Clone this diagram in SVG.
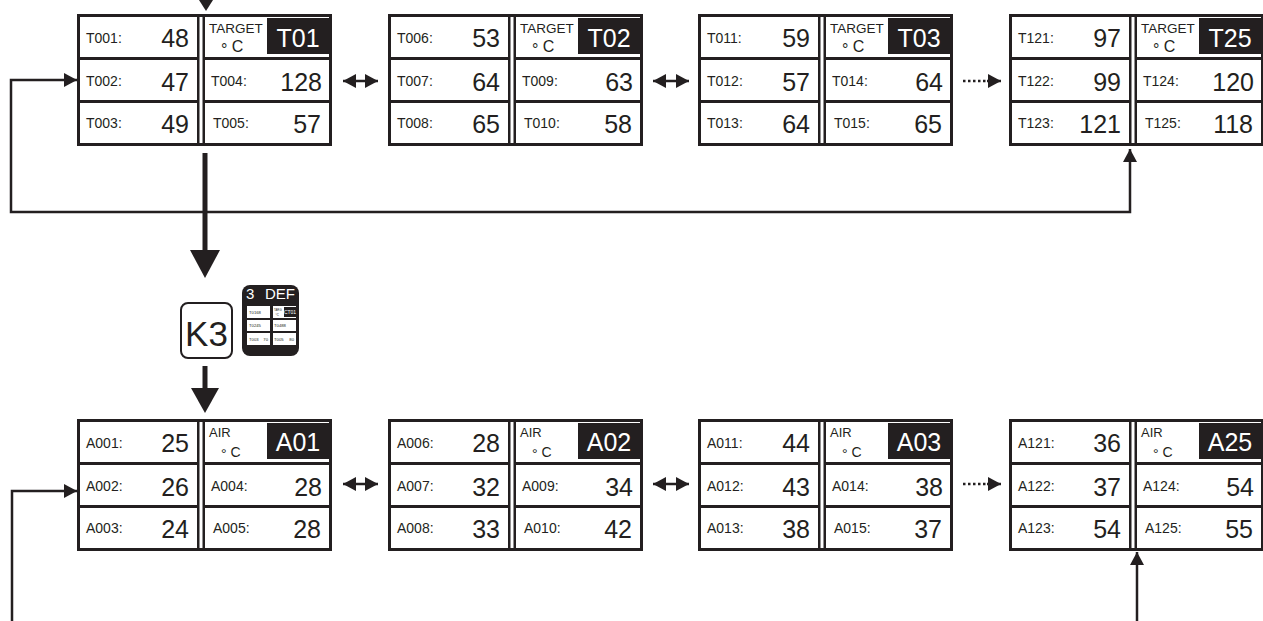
<svg xmlns="http://www.w3.org/2000/svg" xmlns:xlink="http://www.w3.org/1999/xlink" width="1263" height="621" viewBox="0 0 1263 621">
<style>
  text{font-family:"Liberation Sans",Arial,sans-serif;fill:#231f20}
  .lb{font-size:14px}
  .num{font-size:25px;text-anchor:end}
  .hd{font-size:13.5px}
  .deg{font-size:16px}
  .id{font-size:25px;fill:#fff;text-anchor:middle}
  .cell{fill:#fff}
  .ln{fill:none;stroke:#231f20;stroke-width:2.5}
  .thick{fill:none;stroke:#231f20;stroke-width:5}
  .dot{fill:none;stroke:#231f20;stroke-width:2.5;stroke-dasharray:2.5 2.5}
  .tri{fill:#231f20}
  .tiny{font-size:4.2px}
</style>
<defs>
  <marker id="ah" viewBox="0 0 13 14" refX="13" refY="7" markerWidth="13" markerHeight="14" markerUnits="userSpaceOnUse" orient="auto-start-reverse">
    <path d="M0,0 L13,7 L0,14 z" fill="#231f20"/>
  </marker>
  <g id="frame">
    <rect x="0" y="0" width="255" height="132" fill="#231f20"/>
    <rect class="cell" x="3" y="3" width="117" height="40"/>
    <rect class="cell" x="3" y="46" width="117" height="40"/>
    <rect class="cell" x="3" y="89" width="117" height="40"/>
    <rect class="cell" x="122.5" y="3" width="3" height="126"/>
    <rect class="cell" x="128" y="3" width="124" height="40"/>
    <rect class="cell" x="128" y="46" width="124" height="40"/>
    <rect class="cell" x="128" y="89" width="124" height="40"/>
    <rect x="190" y="4" width="62" height="36" fill="#231f20"/>
  </g>
</defs>
<rect width="1263" height="621" fill="#fff"/>

<g id="connectors">
  <polygon class="tri" points="199,0 213,0 206,11"/>
  <line class="thick" x1="205" y1="153" x2="205" y2="252"/>
  <polygon class="tri" points="190,250 220,250 205,278"/>
  <line class="thick" x1="205" y1="366" x2="205" y2="390"/>
  <polygon class="tri" points="191,388 219,388 205,413"/>
  <path class="ln" d="M1130,149 V212 H11 V80 H77" marker-start="url(#ah)" marker-end="url(#ah)"/>
  <path class="ln" d="M12,621 V491 H77" marker-end="url(#ah)"/>
  <path class="ln" d="M1137,621 V552" marker-end="url(#ah)"/>
  <path class="ln" d="M343,81 H378" marker-start="url(#ah)" marker-end="url(#ah)"/>
  <path class="ln" d="M653,81 H689" marker-start="url(#ah)" marker-end="url(#ah)"/>
  <path class="dot" d="M963,81 H989"/>
  <path class="ln" d="M987,81 H1001" marker-end="url(#ah)"/>
  <path class="ln" d="M343,484 H378" marker-start="url(#ah)" marker-end="url(#ah)"/>
  <path class="ln" d="M653,484 H689" marker-start="url(#ah)" marker-end="url(#ah)"/>
  <path class="dot" d="M963,484 H989"/>
  <path class="ln" d="M987,484 H1001" marker-end="url(#ah)"/>
</g>

<g id="t01" transform="translate(77,14)">
  <use xlink:href="#frame"/>
  <text class="lb" x="9" y="29">T001:</text><text class="num" x="112" y="33">48</text>
  <text class="lb" x="9" y="72">T002:</text><text class="num" x="112" y="77">47</text>
  <text class="lb" x="9" y="114">T003:</text><text class="num" x="112" y="119">49</text>
  <text class="hd" x="132" y="19">TARGET</text><text class="deg" x="144" y="38"><tspan dy="3">°</tspan><tspan dy="-3"> C</tspan></text>
  <text class="id" x="221" y="33">T01</text>
  <text class="lb" x="134" y="72">T004:</text><text class="num" x="245" y="77">128</text>
  <text class="lb" x="136" y="114">T005:</text><text class="num" x="244" y="119">57</text>
</g>
<g id="t02" transform="translate(388,14)">
  <use xlink:href="#frame"/>
  <text class="lb" x="9" y="29">T006:</text><text class="num" x="112" y="33">53</text>
  <text class="lb" x="9" y="72">T007:</text><text class="num" x="112" y="77">64</text>
  <text class="lb" x="9" y="114">T008:</text><text class="num" x="112" y="119">65</text>
  <text class="hd" x="132" y="19">TARGET</text><text class="deg" x="144" y="38"><tspan dy="3">°</tspan><tspan dy="-3"> C</tspan></text>
  <text class="id" x="221" y="33">T02</text>
  <text class="lb" x="134" y="72">T009:</text><text class="num" x="245" y="77">63</text>
  <text class="lb" x="136" y="114">T010:</text><text class="num" x="244" y="119">58</text>
</g>
<g id="t03" transform="translate(698,14)">
  <use xlink:href="#frame"/>
  <text class="lb" x="9" y="29">T011:</text><text class="num" x="112" y="33">59</text>
  <text class="lb" x="9" y="72">T012:</text><text class="num" x="112" y="77">57</text>
  <text class="lb" x="9" y="114">T013:</text><text class="num" x="112" y="119">64</text>
  <text class="hd" x="132" y="19">TARGET</text><text class="deg" x="144" y="38"><tspan dy="3">°</tspan><tspan dy="-3"> C</tspan></text>
  <text class="id" x="221" y="33">T03</text>
  <text class="lb" x="134" y="72">T014:</text><text class="num" x="245" y="77">64</text>
  <text class="lb" x="136" y="114">T015:</text><text class="num" x="244" y="119">65</text>
</g>
<g id="t25" transform="translate(1009,14)">
  <use xlink:href="#frame"/>
  <text class="lb" x="9" y="29">T121:</text><text class="num" x="112" y="33">97</text>
  <text class="lb" x="9" y="72">T122:</text><text class="num" x="112" y="77">99</text>
  <text class="lb" x="9" y="114">T123:</text><text class="num" x="112" y="119">121</text>
  <text class="hd" x="132" y="19">TARGET</text><text class="deg" x="144" y="38"><tspan dy="3">°</tspan><tspan dy="-3"> C</tspan></text>
  <text class="id" x="221" y="33">T25</text>
  <text class="lb" x="134" y="72">T124:</text><text class="num" x="245" y="77">120</text>
  <text class="lb" x="136" y="114">T125:</text><text class="num" x="244" y="119">118</text>
</g>

<g id="k3">
  <rect x="181" y="303" width="51" height="55" rx="7" fill="#fff" stroke="#231f20" stroke-width="2"/>
  <text x="206.5" y="346" font-size="35" text-anchor="middle">K3</text>
</g>
<g id="icon">
  <rect x="242" y="285" width="57" height="71" rx="8" fill="#231f20"/>
  <text x="246" y="299" font-size="15" style="fill:#fff">3</text>
  <text x="265" y="299" font-size="15" style="fill:#fff">DEF</text>
  <rect class="cell" x="247" y="306" width="23" height="12"/>
  <rect class="cell" x="247" y="320" width="23" height="11"/>
  <rect class="cell" x="247" y="333" width="23" height="12"/>
  <rect class="cell" x="273" y="306" width="23" height="12"/>
  <rect class="cell" x="273" y="320" width="23" height="11"/>
  <rect class="cell" x="273" y="333" width="23" height="12"/>
  <rect x="284" y="307" width="12" height="10" fill="#231f20"/>
  <text class="tiny" x="249" y="313.5">T0168</text>
  <text class="tiny" x="249" y="327">T0245</text>
  <text class="tiny" x="249" y="341">T003</text><text class="tiny" x="268" y="341" text-anchor="end">70</text>
  <text x="274" y="311" font-size="2.8">TARG</text>
  <text x="275.5" y="316" font-size="3">°C</text>
  <text x="290" y="314" font-size="5" text-anchor="middle" style="fill:#fff">CT01</text>
  <text class="tiny" x="274" y="327">T0488</text>
  <text class="tiny" x="274" y="341">T005</text><text class="tiny" x="294" y="341" text-anchor="end">80</text>
</g>

<g id="a01" transform="translate(77,419)">
  <use xlink:href="#frame"/>
  <text class="lb" x="9" y="29">A001:</text><text class="num" x="112" y="33">25</text>
  <text class="lb" x="9" y="72">A002:</text><text class="num" x="112" y="77">26</text>
  <text class="lb" x="9" y="114">A003:</text><text class="num" x="112" y="119">24</text>
  <text x="132" y="18" font-size="13">AIR</text><text x="144" y="38" font-size="14"><tspan dy="2">°</tspan><tspan dy="-2"> C</tspan></text>
  <text class="id" x="221" y="32">A01</text>
  <text class="lb" x="134" y="72">A004:</text><text class="num" x="245" y="77">28</text>
  <text class="lb" x="136" y="114">A005:</text><text class="num" x="244" y="119">28</text>
</g>
<g id="a02" transform="translate(388,419)">
  <use xlink:href="#frame"/>
  <text class="lb" x="9" y="29">A006:</text><text class="num" x="112" y="33">28</text>
  <text class="lb" x="9" y="72">A007:</text><text class="num" x="112" y="77">32</text>
  <text class="lb" x="9" y="114">A008:</text><text class="num" x="112" y="119">33</text>
  <text x="132" y="18" font-size="13">AIR</text><text x="144" y="38" font-size="14"><tspan dy="2">°</tspan><tspan dy="-2"> C</tspan></text>
  <text class="id" x="221" y="32">A02</text>
  <text class="lb" x="134" y="72">A009:</text><text class="num" x="245" y="77">34</text>
  <text class="lb" x="136" y="114">A010:</text><text class="num" x="244" y="119">42</text>
</g>
<g id="a03" transform="translate(698,419)">
  <use xlink:href="#frame"/>
  <text class="lb" x="9" y="29">A011:</text><text class="num" x="112" y="33">44</text>
  <text class="lb" x="9" y="72">A012:</text><text class="num" x="112" y="77">43</text>
  <text class="lb" x="9" y="114">A013:</text><text class="num" x="112" y="119">38</text>
  <text x="132" y="18" font-size="13">AIR</text><text x="144" y="38" font-size="14"><tspan dy="2">°</tspan><tspan dy="-2"> C</tspan></text>
  <text class="id" x="221" y="32">A03</text>
  <text class="lb" x="134" y="72">A014:</text><text class="num" x="245" y="77">38</text>
  <text class="lb" x="136" y="114">A015:</text><text class="num" x="244" y="119">37</text>
</g>
<g id="a25" transform="translate(1009,419)">
  <use xlink:href="#frame"/>
  <text class="lb" x="9" y="29">A121:</text><text class="num" x="112" y="33">36</text>
  <text class="lb" x="9" y="72">A122:</text><text class="num" x="112" y="77">37</text>
  <text class="lb" x="9" y="114">A123:</text><text class="num" x="112" y="119">54</text>
  <text x="132" y="18" font-size="13">AIR</text><text x="144" y="38" font-size="14"><tspan dy="2">°</tspan><tspan dy="-2"> C</tspan></text>
  <text class="id" x="221" y="32">A25</text>
  <text class="lb" x="134" y="72">A124:</text><text class="num" x="245" y="77">54</text>
  <text class="lb" x="136" y="114">A125:</text><text class="num" x="244" y="119">55</text>
</g>
</svg>
